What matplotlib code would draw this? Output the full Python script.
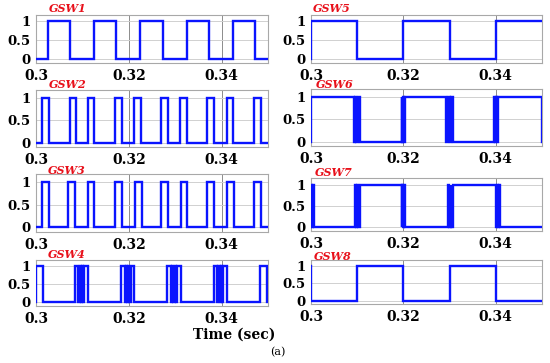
import matplotlib
matplotlib.use("Agg")
import matplotlib.pyplot as plt

# ----------------------------
# Gate signal data (switching instants)
# ----------------------------
names = ["GSW1", "GSW2", "GSW3", "GSW4", "GSW5", "GSW6", "GSW7", "GSW8"]

# level at t = 0.3 before the first edge
init_levels = [0, 0, 0, 0, 0, 0, 0, 1]

gsw1_edges = [0.3025, 0.3073, 0.3125, 0.3173, 0.3225, 0.3273,
              0.3325, 0.3373, 0.3425, 0.3473]
gsw2_edges = [0.3014, 0.3029, 0.3073, 0.3087, 0.3112, 0.3126, 0.3171, 0.3185,
              0.3212, 0.3226, 0.3269, 0.3284, 0.3311, 0.3325, 0.3369, 0.3384,
              0.3411, 0.3425, 0.3469, 0.3484]
gsw3_edges = [0.3014, 0.3029, 0.3069, 0.3084, 0.3112, 0.3126, 0.3171, 0.3185,
              0.3214, 0.3229, 0.3269, 0.3284, 0.3312, 0.3326, 0.3369, 0.3384,
              0.3412, 0.3426, 0.3469, 0.3484]
gsw4_edges = [0.3001, 0.3015,
              0.3083, 0.3091, 0.3094, 0.3096, 0.3099, 0.3101, 0.3104, 0.3111,
              0.3184, 0.3191, 0.3194, 0.3196, 0.3199, 0.3201, 0.3204, 0.3211,
              0.3283, 0.3291, 0.3294, 0.3296, 0.3299, 0.3301, 0.3304, 0.3312,
              0.3384, 0.3390, 0.3393, 0.3396, 0.3399, 0.3401, 0.3404, 0.3412,
              0.3483, 0.3497]
gsw5_edges = [0.3000, 0.3100, 0.3200, 0.3300, 0.3400]
gsw6_edges = [0.3000,
              0.3092, 0.3095, 0.3098, 0.3101, 0.3105,
              0.3196, 0.3198, 0.3200, 0.3202, 0.3204,
              0.3293, 0.3296, 0.3300, 0.3303, 0.3307,
              0.3396, 0.3398, 0.3400, 0.3402, 0.3404,
              0.3499]
gsw7_edges = [0.3000, 0.3002, 0.3004, 0.3006,
              0.3095, 0.3097, 0.3100, 0.3102, 0.3105,
              0.3196, 0.3198, 0.3200, 0.3202, 0.3204,
              0.3297, 0.3299, 0.3302, 0.3304, 0.3307,
              0.3401, 0.3403, 0.3405, 0.3407, 0.3410]
gsw8_edges = [0.3000, 0.3100, 0.3200, 0.3300, 0.3400]

all_edges = [gsw1_edges, gsw2_edges, gsw3_edges, gsw4_edges,
             gsw5_edges, gsw6_edges, gsw7_edges, gsw8_edges]

t_start, t_end = 0.3, 0.35
x_ticks = [0.3, 0.32, 0.34]
x_tick_labels = ["0.3", "0.32", "0.34"]
y_ticks = [0, 0.5, 1]
y_tick_labels = ["0", "0.5", "1"]


def square(edges, init):
    """Build a step waveform from toggle instants"""
    xs, ys = [t_start], [init]
    lvl = init
    for t in edges:
        xs += [t, t]
        ys += [lvl, 1 - lvl]
        lvl = 1 - lvl
    xs.append(t_end)
    ys.append(lvl)
    return xs, ys


# ----------------------------
# Layout (pixel boxes: left, top, width, bottom)
# ----------------------------
W, H = 550, 363
boxes = [(36, 15, 232, 63), (36, 90, 232, 147), (36, 174, 232, 232), (36, 260, 232, 306),
         (311, 15, 231, 63), (311, 89, 231, 146), (311, 178, 231, 231), (311, 260, 231, 304)]
title_pos = [(49, 8), (49, 85), (48, 170), (48, 255),
             (313, 8), (316, 85), (315, 172), (314, 256)]

fig = plt.figure(figsize=(W / 100, H / 100), dpi=100)
fig.patch.set_facecolor("white")

tick_font = dict(family="DejaVu Serif", weight="bold")

for i in range(8):
    l, t, w, b = boxes[i]
    ax = fig.add_axes([l / W, 1 - b / H, w / W, (b - t) / H])
    xs, ys = square(all_edges[i], init_levels[i])
    ax.plot(xs, ys, color="#0a14ff", lw=1.7, solid_joinstyle="miter", zorder=3)
    ax.set_xlim(t_start, t_end)
    ax.set_ylim(-0.1, 1.17)
    ax.set_xticks(x_ticks)
    ax.set_xticklabels(x_tick_labels, fontsize=10, **tick_font)
    ax.set_yticks(y_ticks)
    ax.set_yticklabels(y_tick_labels, fontsize=9.5, **tick_font)
    ax.tick_params(length=0, pad=4)
    ax.xaxis.grid(True, color="#8c8c8c", lw=0.7)
    ax.yaxis.grid(True, color="#d0d0d0", lw=0.7)
    ax.set_axisbelow(True)
    for s in ax.spines.values():
        s.set_color("#a8a8a8")
        s.set_linewidth(0.8)
    tx, ty = title_pos[i]
    fig.text(tx / W, 1 - ty / H, names[i], color="#e8101a", fontsize=8,
             family="DejaVu Serif", weight="bold", style="italic", va="center")

fig.text(234 / W, 1 - 335 / H, "Time (sec)", fontsize=10, ha="center", va="center",
         **tick_font)
fig.text(278 / W, 1 - 352 / H, "(a)", fontsize=8, ha="center", va="center",
         family="DejaVu Serif")

plt.savefig("out.png", dpi=100)
